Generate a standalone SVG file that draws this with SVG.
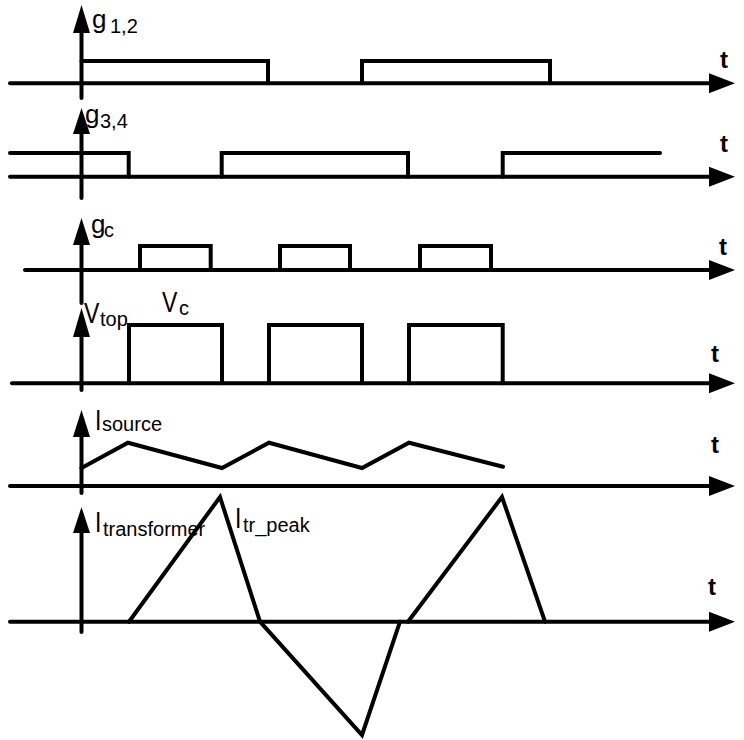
<svg xmlns="http://www.w3.org/2000/svg" width="744" height="740" viewBox="0 0 744 740">
<defs>
<style>
.ax{stroke:#000;stroke-width:4;fill:none;stroke-linecap:round}
.wf{stroke:#000;stroke-width:4;fill:none;stroke-linecap:round;stroke-linejoin:miter}
.ah{fill:#000;stroke:none}
.g{font-family:"Liberation Sans",Arial,sans-serif;font-size:26px;fill:#000}
.m{font-family:"Liberation Sans",Arial,sans-serif;font-size:23px;fill:#000}
.s{font-family:"Liberation Sans",Arial,sans-serif;font-size:20px;fill:#000}
.t{font-family:"Liberation Sans",Arial,sans-serif;font-size:24px;font-weight:bold;fill:#000}
</style>
</defs>
<rect width="744" height="740" fill="#fff"/>

<g id="row-g12">
<line class="ax" x1="10" y1="83.3" x2="712" y2="83.3"/>
<polygon class="ah" points="735,83.3 709,73.3 709,93.3"/>
<line class="ax" x1="81.5" y1="30" x2="81.5" y2="98"/>
<polygon class="ah" points="81.5,5 73,33 90,33"/>
<path class="wf" d="M81.5 61 H268 V83.3 M362 83.3 V61 H550 V83.3"/>
<text class="g" x="92" y="28">g</text><text class="s" x="110" y="33">1,2</text>
<text class="t" x="720" y="68">t</text>
</g>

<g id="row-g34">
<line class="ax" x1="10" y1="176.7" x2="712" y2="176.7"/>
<polygon class="ah" points="735,176.7 709,166.7 709,186.7"/>
<line class="ax" x1="81.5" y1="130" x2="81.5" y2="198"/>
<polygon class="ah" points="81.5,108 73,134 90,134"/>
<path class="wf" d="M10 153 H128.7 V176.7 M221.7 176.7 V153 H408 V176.7 M502.7 176.7 V153 H660"/>
<text class="g" x="85" y="123">g</text><text class="s" x="100" y="128">3,4</text>
<text class="t" x="720" y="152">t</text>
</g>

<g id="row-gc">
<line class="ax" x1="25" y1="270" x2="712" y2="270"/>
<polygon class="ah" points="735,270 709,260 709,280"/>
<line class="ax" x1="81.5" y1="240" x2="81.5" y2="303"/>
<polygon class="ah" points="81.5,218 73,245 90,245"/>
<path class="wf" d="M140 270 V246 H210.7 V270 M280 270 V246 H350 V270 M420 270 V246 H491 V270"/>
<text class="g" x="91" y="233">g</text><text class="s" x="104" y="237">c</text>
<text class="t" x="719" y="255">t</text>
</g>

<g id="row-vtop">
<line class="ax" x1="12" y1="383.3" x2="712" y2="383.3"/>
<polygon class="ah" points="735,383.3 709,373.3 709,393.3"/>
<line class="ax" x1="81.5" y1="333" x2="81.5" y2="390"/>
<polygon class="ah" points="81.5,308 73,337 90,337"/>
<path class="wf" d="M129 383.3 V325 H222 V383.3 M269 383.3 V325 H362 V383.3 M409 383.3 V325 H502.7 V383.3"/>
<text class="m" transform="translate(84,323) scale(1,1.25)">V</text><text class="s" x="100" y="326">top</text>
<text class="m" transform="translate(162,312) scale(1,1.25)">V</text><text class="s" x="179" y="315">c</text>
<text class="t" x="711" y="362">t</text>
</g>

<g id="row-isource">
<line class="ax" x1="10" y1="486" x2="712" y2="486"/>
<polygon class="ah" points="735,486 709,476 709,496"/>
<line class="ax" x1="81.5" y1="433" x2="81.5" y2="493"/>
<polygon class="ah" points="81.5,410 73,437 90,437"/>
<polyline class="wf" points="81.5,468 128,442.7 222,468 269,442.7 362,468 409,442.7 503,466.7"/>
<text class="m" transform="translate(95,430) scale(1,1.25)">I</text><text class="s" x="102" y="431">source</text>
<text class="t" x="711" y="453">t</text>
</g>

<g id="row-itransformer">
<line class="ax" x1="10" y1="621.7" x2="712" y2="621.7"/>
<polygon class="ah" points="735,621.7 709,611.7 709,631.7"/>
<line class="ax" x1="81.5" y1="530" x2="81.5" y2="632"/>
<polygon class="ah" points="81.5,507 73,533 90,533"/>
<polyline class="wf" points="129,621.7 220,497 260,621.7 362,735 400,621.7"/>
<polyline class="wf" points="408,621.7 502,497 545,621.7"/>
<text class="m" transform="translate(95,532) scale(1,1.25)">I</text><text class="s" x="103" y="536">transformer</text>
<text class="m" transform="translate(235,528) scale(1,1.25)">I</text><text class="s" x="243" y="532">tr_peak</text>
<text class="t" x="708" y="595">t</text>
</g>
</svg>
